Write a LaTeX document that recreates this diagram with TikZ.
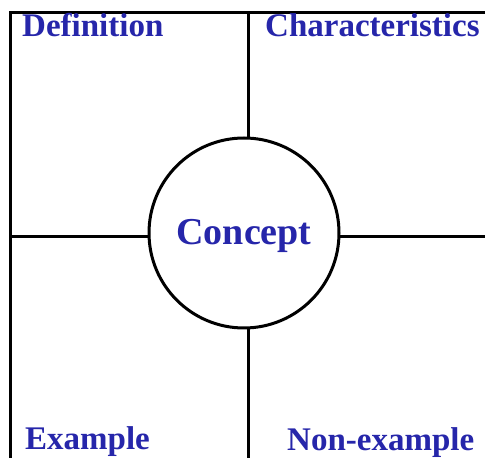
\documentclass[tikz,border=0pt]{standalone}
\usepackage{fontspec}
\setmainfont{Liberation Serif}
\definecolor{labelblue}{RGB}{38,38,170}
\begin{document}
\begin{tikzpicture}[x=1pt,y=1pt,
  frame/.style={line width=3pt},
  lbl/.style={text=labelblue,font=\bfseries\fontsize{33}{33}\selectfont,anchor=base west,inner sep=0pt},
  conceptcircle/.style={circle,draw,line width=3pt,fill=white,minimum size=190pt,inner sep=0pt,text=labelblue,font=\bfseries\fontsize{38}{38}\selectfont}]
\useasboundingbox (0,0) rectangle (485,458);
% corners of the frame (y measured upward: y = 458 - y_img)
\coordinate (tl) at (10,445);
\coordinate (tr) at (487,445);
\coordinate (bl) at (10,-2);
\coordinate (topmid) at (248,445);
\coordinate (botmid) at (248,-2);
\coordinate (leftmid) at (10,221);
\coordinate (rightmid) at (487,221);
\draw[frame] (bl) -- (tl) -- (tr);
\draw[frame] (topmid) -- (botmid);
\draw[frame] (leftmid) -- (rightmid);
\node[conceptcircle] (concept) at (244,225) {};
\node[text=labelblue,font=\bfseries\fontsize{38}{38}\selectfont,anchor=base,inner sep=0pt] (conceptlbl) at (244,213) {Concept};
\node[lbl] (definition) at (22,421) {Definition};
\node[lbl] (characteristics) at (265,421) {Characteristics};
\node[lbl] (example) at (25,8) {Example};
\node[lbl] (nonexample) at (287,7) {Non-example};
\end{tikzpicture}
\end{document}
